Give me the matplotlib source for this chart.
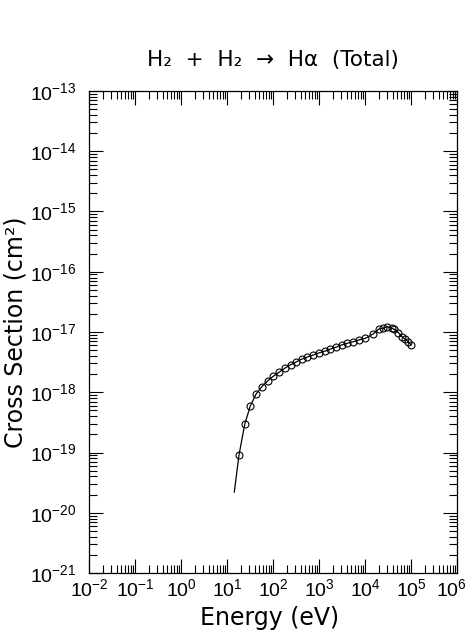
#!/usr/bin/env python3
"""H2 + H2 -> H-alpha (total) emission cross section vs. collision energy."""
import matplotlib
matplotlib.use("Agg")
import matplotlib.pyplot as plt
from matplotlib.transforms import ScaledTranslation
from matplotlib.ticker import LogLocator, FixedLocator, NullFormatter

# threshold point where the fitted curve starts (no marker there)
line_start_e = 14.4
line_start_sigma = 2.2e-20

# tabulated points (eV, cm^2)
energy = [18.2, 24.3, 32.0, 42.7, 56.7, 76.7, 101, 135, 179, 242, 316, 420,
          557, 752, 1000, 1330, 1760, 2340, 3100, 4120, 5570, 7510, 10200,
          15100, 20000, 25000, 30600, 38000, 43400, 53000, 63200, 74000,
          87400, 100000]
sigma = [9.1e-20, 2.95e-19, 5.9e-19, 9.3e-19, 1.23e-18, 1.55e-18, 1.84e-18,
         2.14e-18, 2.5e-18, 2.87e-18, 3.18e-18, 3.54e-18, 3.85e-18, 4.15e-18,
         4.5e-18, 4.8e-18, 5.2e-18, 5.6e-18, 6.1e-18, 6.5e-18, 6.9e-18,
         7.4e-18, 7.85e-18, 9.3e-18, 1.12e-17, 1.15e-17, 1.23e-17, 1.15e-17,
         1.11e-17, 9.8e-18, 8.4e-18, 7.6e-18, 6.9e-18, 6.1e-18]

x_decades = list(range(-2, 7))
y_decades = list(range(-21, -12))

plt.rcParams["font.family"] = ["DejaVu Sans"]
plt.rcParams["mathtext.fontset"] = "custom"
plt.rcParams["mathtext.rm"] = "Liberation Sans"
plt.rcParams["mathtext.it"] = "Liberation Sans"
plt.rcParams["mathtext.default"] = "rm"

fig = plt.figure(figsize=(4.7, 6.34), dpi=100)
ax = fig.add_axes([0.1894, 0.0962, 0.783, 0.7603])

ax.plot([line_start_e] + energy, [line_start_sigma] + sigma, color="black", lw=0.9)
ax.plot(energy, sigma, "o", mfc="none", mec="black", ms=5, mew=0.8)

ax.set_xscale("log")
ax.set_yscale("log")
ax.set_xlim(10.0 ** x_decades[0], 10.0 ** x_decades[-1])
ax.set_ylim(10.0 ** y_decades[0], 10.0 ** y_decades[-1])

ax.xaxis.set_major_locator(FixedLocator([10.0 ** d for d in x_decades]))
ax.yaxis.set_major_locator(FixedLocator([10.0 ** d for d in y_decades]))
ax.set_xticklabels([r"$10^{-%d}$" % -d if d < 0 else r"$10^{%d}$" % d for d in x_decades])
ax.set_yticklabels([r"$10^{-%d}$" % -d for d in y_decades])
for a in (ax.xaxis, ax.yaxis):
    a.set_minor_locator(LogLocator(base=10, subs=range(2, 10), numticks=20))
    a.set_minor_formatter(NullFormatter())

ax.tick_params(which="both", direction="in", top=True, right=True, width=0.8,
               labelsize=14)
ax.tick_params(axis="x", pad=4)
ax.tick_params(axis="y", pad=9)
ax.tick_params(which="major", length=10)
ax.tick_params(which="minor", length=5.8)
for s in ax.spines.values():
    s.set_linewidth(0.9)

# last x label sits right on the figure edge; pull it in a little
last = ax.xaxis.get_major_ticks()[-1].label1
last.set_transform(last.get_transform() + ScaledTranslation(-4 / 72, 0, fig.dpi_scale_trans))

ax.set_xlabel("Energy (eV)", fontsize=17)
ax.set_ylabel("Cross Section (cm²)", fontsize=17)
ax.xaxis.set_label_coords(0.49, -0.068)
ax.xaxis.label.set_va("top")
ax.yaxis.set_label_coords(-0.168, 0.5)
ax.set_title("H₂  +  H₂  →  Hα  (Total)", fontsize=15.5, pad=18)

fig.savefig("out.png", dpi=100)
